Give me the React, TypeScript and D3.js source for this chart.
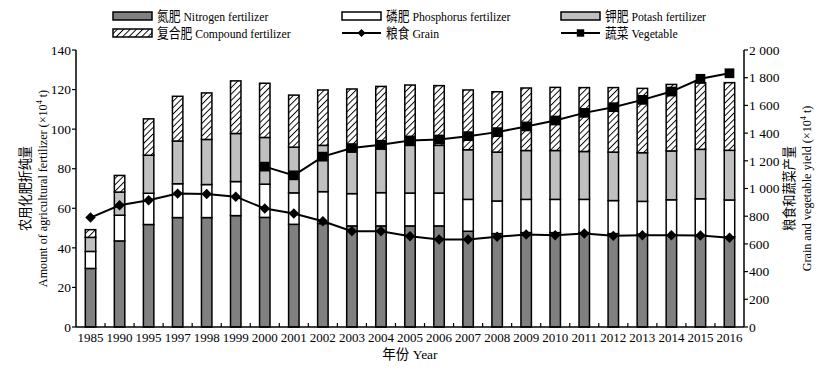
import React from "react";
import * as d3 from "d3";

// years on the x axis
const years = [
  "1985", "1990", "1995", "1997", "1998", "1999", "2000", "2001", "2002", "2003", "2004", "2005",
  "2006", "2007", "2008", "2009", "2010", "2011", "2012", "2013", "2014", "2015", "2016",
];

// fertilizer amounts (x10^4 t), stacked in this order
const nitrogen = [29.6, 43.5, 51.8, 55.3, 55.3, 56.3, 55.4, 51.9, 52.3, 51.1, 51.1, 51.1, 51.1, 48.4, 47.2, 47.7, 47.7, 47.7, 47.2, 46.9, 46.5, 46.2, 45.6];
const phosphorus = [8.6, 13.0, 15.8, 17.1, 16.7, 17.2, 16.8, 15.9, 16.1, 16.3, 16.8, 16.6, 16.6, 16.1, 16.5, 16.8, 16.8, 16.8, 16.7, 16.6, 17.8, 18.6, 18.6];
const potash = [7.1, 11.7, 19.2, 21.6, 22.8, 24.3, 23.6, 23.1, 23.4, 22.7, 22.1, 24.1, 24.1, 25.1, 24.7, 24.7, 24.7, 24.2, 24.5, 24.6, 24.7, 25.0, 25.1];
const compound = [3.9, 8.4, 18.4, 22.6, 23.5, 26.6, 27.4, 26.3, 28.0, 30.2, 31.6, 30.5, 30.2, 30.2, 30.5, 31.6, 31.9, 32.3, 32.6, 32.5, 33.6, 33.6, 34.2];

// yields (x10^4 t), right axis
const grain = [790, 879, 915, 963, 960, 941, 855, 819, 763, 691, 691, 656, 632, 632, 651, 668, 663, 675, 658, 663, 662, 660, 645];
const vegetable = [null, null, null, null, null, null, 1158, 1095, 1230, 1292, 1316, 1347, 1354, 1378, 1407, 1448, 1491, 1546, 1587, 1640, 1700, 1792, 1832];

const leftTicks = [0, 20, 40, 60, 80, 100, 120, 140];
const rightTicks = [0, 200, 400, 600, 800, 1000, 1200, 1400, 1600, 1800, 2000];

const W = 825;
const H = 370;
const margin = { top: 50, right: 81, bottom: 43, left: 76 };
const serif = "'Liberation Serif', 'Times New Roman', 'Noto Sans CJK SC', serif";

const fills = ["#808080", "#ffffff", "#c0c0c0", "url(#hatch)"];

export default function App() {
  const x0 = margin.left;
  const x1 = W - margin.right;
  const yTop = margin.top;
  const yBot = H - margin.bottom;

  const x = d3.scaleBand<string>().domain(years).range([x0, x1]).paddingInner(0.64).paddingOuter(0.32);
  const yL = d3.scaleLinear().domain([0, 140]).range([yBot, yTop]);
  const yR = d3.scaleLinear().domain([0, 2000]).range([yBot, yTop]);
  const step = x.step();

  const rows = years.map((yr, i) => ({ yr, vals: [nitrogen[i], phosphorus[i], potash[i], compound[i]] }));
  const stack = d3.stack<any>().keys([0, 1, 2, 3] as any).value((d: any, k: any) => d.vals[k]);
  const series = stack(rows);

  const cx = (yr: string) => (x(yr) as number) + x.bandwidth() / 2;
  const grainLine = d3.line<number>().x((_, i) => cx(years[i])).y((d) => yR(d));
  const vegPts = years.map((yr, i) => ({ yr, v: vegetable[i] })).filter((d) => d.v != null) as { yr: string; v: number }[];
  const vegLine = d3.line<{ yr: string; v: number }>().x((d) => cx(d.yr)).y((d) => yR(d.v));

  const fmtR = (v: number) => (v >= 1000 ? `${Math.floor(v / 1000)} ${String(v % 1000).padStart(3, "0")}` : String(v));
  const diamond = d3.symbol(d3.symbolDiamond2, 70)();
  const square = d3.symbol(d3.symbolSquare, 95)();

  const midY = (yTop + yBot) / 2;

  const legendCols = [113, 342, 561];
  const legendRows = [16, 33];
  const legend = [
    { label: "氮肥 Nitrogen fertilizer", kind: "box", fill: fills[0] },
    { label: "磷肥 Phosphorus fertilizer", kind: "box", fill: fills[1] },
    { label: "钾肥 Potash fertilizer", kind: "box", fill: fills[2] },
    { label: "复合肥 Compound fertilizer", kind: "box", fill: fills[3] },
    { label: "粮食 Grain", kind: "diamond" },
    { label: "蔬菜 Vegetable", kind: "square" },
  ];

  return (
    <svg width={W} height={H} style={{ position: "absolute", left: 0, top: 0, background: "#fff" }} fontFamily={serif}>
      <defs>
        <pattern id="hatch" patternUnits="userSpaceOnUse" width="4.5" height="4.5" patternTransform="rotate(45)">
          <rect width="4.5" height="4.5" fill="#fff" />
          <line x1="0" y1="0" x2="0" y2="4.5" stroke="#000" strokeWidth="1.9" />
        </pattern>
      </defs>

      {/* legend */}
      {legend.map((d, i) => {
        const lx = legendCols[i % 3];
        const ly = legendRows[Math.floor(i / 3)];
        return (
          <g key={d.label} transform={`translate(${lx},${ly})`}>
            {d.kind === "box" ? (
              <rect x={0} y={-4} width={39} height={8} fill={d.fill} stroke="#000" strokeWidth={1.5} />
            ) : (
              <g>
                <line x1={0} x2={39} y1={0} y2={0} stroke="#000" strokeWidth={2} />
                <path
                  transform="translate(19.5,0)"
                  d={d.kind === "diamond" ? d3.symbol(d3.symbolDiamond2, 40)()! : d3.symbol(d3.symbolSquare, 55)()!}
                  fill="#000"
                />
              </g>
            )}
            <text transform="translate(44,0) scale(0.87,1)" dy="0.35em" fontSize={13.5}>
              {d.label}
            </text>
          </g>
        );
      })}

      {/* stacked bars */}
      {series.map((s, k) =>
        s.map((d, i) => (
          <rect
            key={`${k}-${i}`}
            x={x(years[i])}
            y={yL(d[1])}
            width={x.bandwidth()}
            height={yL(d[0]) - yL(d[1])}
            fill={fills[k]}
            stroke="#000"
            strokeWidth={1.5}
          />
        ))
      )}

      {/* lines */}
      <path d={grainLine(grain)!} fill="none" stroke="#000" strokeWidth={2} />
      {grain.map((v, i) => (
        <path key={`g${i}`} d={diamond!} transform={`translate(${cx(years[i])},${yR(v)})`} fill="#000" />
      ))}
      <path d={vegLine(vegPts)!} fill="none" stroke="#000" strokeWidth={2} />
      {vegPts.map((d) => (
        <path key={`v${d.yr}`} d={square!} transform={`translate(${cx(d.yr)},${yR(d.v)})`} fill="#000" />
      ))}

      {/* axes */}
      <line x1={x0} x2={x0} y1={yTop} y2={yBot} stroke="#000" strokeWidth={1.5} />
      <line x1={x1} x2={x1} y1={yTop} y2={yBot} stroke="#000" strokeWidth={1.5} />
      <line x1={x0} x2={x1} y1={yBot} y2={yBot} stroke="#000" strokeWidth={1.5} />

      {leftTicks.map((t) => (
        <g key={`l${t}`} transform={`translate(${x0},${yL(t)})`}>
          <line x1={-4} x2={0} stroke="#000" strokeWidth={1.2} />
          <text x={-5} dy="0.35em" textAnchor="end" fontSize={13.5}>
            {t}
          </text>
        </g>
      ))}
      {rightTicks.map((t) => (
        <g key={`r${t}`} transform={`translate(${x1},${yR(t)})`}>
          <line x1={0} x2={4} stroke="#000" strokeWidth={1.2} />
          <text x={5} dy="0.35em" textAnchor="start" fontSize={13.5}>
            {fmtR(t)}
          </text>
        </g>
      ))}
      {years.slice(1).map((yr) => {
        const bx = (x(yr) as number) - (step - x.bandwidth()) / 2;
        return <line key={`t${yr}`} x1={bx} x2={bx} y1={yBot} y2={yBot - 4} stroke="#000" strokeWidth={1.2} />;
      })}
      {years.map((yr) => (
        <text key={`x${yr}`} x={cx(yr)} y={yBot + 15} textAnchor="middle" fontSize={13}>
          {yr}
        </text>
      ))}

      {/* axis titles */}
      <text x={(x0 + x1) / 2} y={yBot + 32} textAnchor="middle" fontSize={13.5}>
        年份 Year
      </text>
      <g transform={`translate(25,${midY}) rotate(-90)`}>
        <text textAnchor="middle" fontSize={13.5} dy="0.35em" transform="scale(0.9,1)">
          农用化肥折纯量
        </text>
        <text textAnchor="middle" fontSize={13.5} y={17} dy="0.35em" transform="scale(0.9,1)">
          Amount of agricultural fertilizer (×10
          <tspan fontSize={9} dy={-5}>
            4
          </tspan>
          <tspan dy={5}> t)</tspan>
        </text>
      </g>
      <g transform={`translate(789,${midY}) rotate(-90)`}>
        <text textAnchor="middle" fontSize={13.5} dy="0.35em" transform="scale(0.9,1)">
          粮食和蔬菜产量
        </text>
        <text textAnchor="middle" fontSize={13.5} y={17} dy="0.35em" transform="scale(0.9,1)">
          Grain and vegetable yield (×10
          <tspan fontSize={9} dy={-5}>
            4
          </tspan>
          <tspan dy={5}> t)</tspan>
        </text>
      </g>
    </svg>
  );
}
